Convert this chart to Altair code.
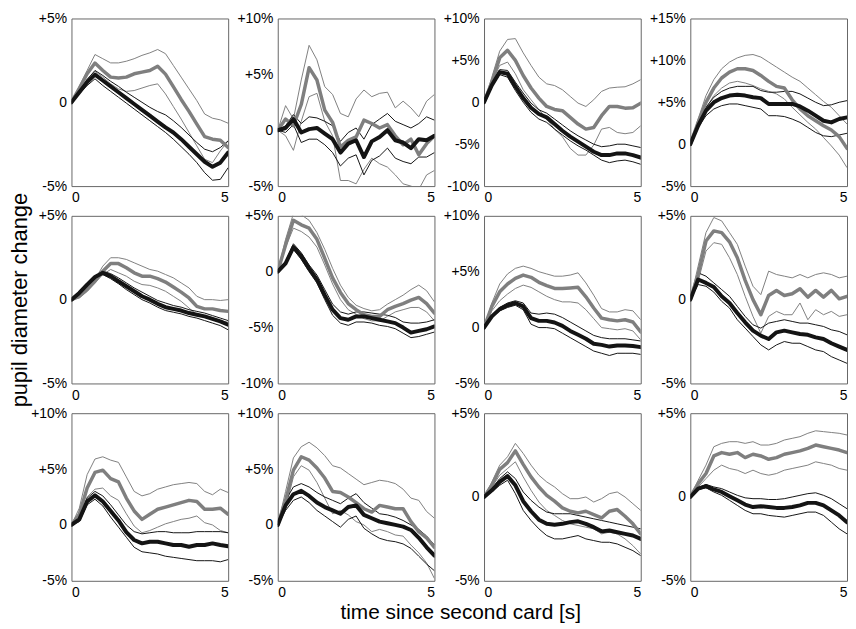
import altair as alt
import pandas as pd

# time grid [s]
T = [0, 0.25, 0.5, 0.75, 1.0, 1.25, 1.5, 1.75, 2.0, 2.25, 2.5, 2.75,
     3.0, 3.25, 3.5, 3.75, 4.0, 4.25, 4.5, 4.75, 5.0]

# ---- row 1 ----
r1c1_g  = [0, 0.83, 1.7, 2.34, 1.9, 1.5, 1.45, 1.5, 1.7, 1.8, 1.9, 2.15, 1.68, 0.93, 0.17, -0.54, -1.3, -2.05, -2.2, -2.26, -2.7]
r1c1_gh = [0, 0.95, 1.9, 2.85, 2.6, 2.35, 2.35, 2.45, 2.6, 2.8, 2.95, 3.15, 2.9, 2.2, 1.5, 0.8, 0.1, -0.7, -0.95, -1.05, -1.25]
r1c1_gl = [0, 0.7, 1.4, 1.85, 1.5, 1.1, 0.8, 0.65, 0.7, 0.85, 1.0, 1.1, 0.5, -0.25, -1.0, -1.8, -2.6, -3.4, -3.6, -2.9, -2.3]
r1c1_k  = [0, 0.6, 1.2, 1.65, 1.3, 0.95, 0.6, 0.25, -0.1, -0.45, -0.8, -1.15, -1.5, -1.8, -2.2, -2.65, -3.1, -3.55, -3.85, -3.6, -3.0]
r1c1_kh = [0, 0.7, 1.35, 1.9, 1.6, 1.25, 0.95, 0.6, 0.3, 0.0, -0.3, -0.55, -0.75, -1.1, -1.5, -1.95, -2.4, -2.8, -2.95, -2.7, -2.3]
r1c1_kl = [0, 0.5, 1.0, 1.4, 1.0, 0.65, 0.3, -0.05, -0.4, -0.75, -1.1, -1.45, -1.8, -2.2, -2.65, -3.1, -3.6, -4.2, -4.65, -4.6, -3.9]

r1c2_g  = [0, 1.0, 0.4, 2.3, 5.6, 4.5, 1.8, 0.7, -1.5, -0.9, -0.6, 0.9, 0.6, 0.2, 0.5, -0.5, -1.3, -0.8, -2.2, -1.2, -0.5]
r1c2_gh = [0, 2.2, 1.0, 4.5, 7.6, 6.3, 3.9, 3.2, 1.5, 1.2, 2.8, 3.6, 3.0, 3.3, 3.4, 2.0, 2.6, 2.0, 1.2, 2.6, 3.2]
r1c2_gl = [0, -0.5, -1.8, 0.8, 3.0, 3.3, 0.8, -0.5, -4.5, -4.5, -4.8, -3.5, -2.5, -3.0, -3.3, -4.0, -4.8, -5.0, -5.3, -4.0, -3.6]
r1c2_k  = [0, 0.2, 1.0, -0.2, 0.1, 0.2, -0.3, -0.8, -2.0, -1.2, -0.9, -2.4, -1.0, -0.6, 0.0, -0.9, -1.1, -1.6, -0.8, -0.9, -0.5]
r1c2_kh = [0, 0.4, 1.4, 0.6, 1.2, 1.1, 0.8, 0.4, -1.0, -0.2, 0.2, -0.8, 0.5, 1.0, 1.5, 0.8, 0.5, 0.2, 0.6, 1.2, 0.9]
r1c2_kl = [0, -0.2, 0.5, -1.1, -0.8, -0.8, -1.3, -2.0, -3.2, -2.5, -2.2, -4.0, -2.7, -2.3, -1.6, -2.5, -2.8, -3.0, -2.4, -2.4, -2.0]

r1c3_g  = [0, 2.4, 5.3, 6.2, 5.0, 3.2, 1.7, 0.5, -0.5, -0.85, -1.0, -1.8, -2.6, -3.2, -3.0, -1.6, -0.5, -0.5, -0.7, -0.65, -0.1]
r1c3_gh = [0, 3.0, 6.1, 7.5, 7.6, 5.9, 4.4, 3.0, 2.2, 2.0, 1.5, 0.7, -0.1, -0.5, 0.3, 1.3, 1.7, 1.8, 1.85, 2.2, 2.7]
r1c3_gl = [0, 2.4, 4.4, 4.8, 3.4, 1.5, 0.3, -0.85, -2.0, -3.2, -4.1, -5.5, -6.3, -6.3, -5.1, -3.2, -3.0, -3.6, -3.75, -3.6, -2.8]
r1c3_k  = [0, 2.05, 3.6, 3.4, 1.9, 0.5, -0.65, -1.4, -1.8, -2.6, -3.4, -4.1, -4.7, -5.3, -5.9, -6.3, -6.3, -6.1, -6.1, -6.3, -6.6]
r1c3_kh = [0, 2.2, 3.9, 3.8, 2.4, 1.1, -0.1, -0.9, -1.3, -2.0, -2.7, -3.4, -4.0, -4.5, -5.0, -5.3, -5.2, -5.0, -5.0, -5.2, -5.4]
r1c3_kl = [0, 1.9, 3.3, 3.0, 1.4, 0.0, -1.2, -2.0, -2.4, -3.2, -3.9, -4.6, -5.2, -5.7, -6.3, -6.9, -7.2, -7.0, -6.9, -7.1, -7.4]

r1c4_g  = [0, 2.6, 5.0, 6.7, 7.9, 8.6, 9.0, 9.0, 8.8, 8.2, 7.5, 6.9, 6.7, 5.3, 4.2, 3.4, 2.8, 2.2, 1.7, 0.9, -0.5]
r1c4_gh = [0, 3.0, 5.8, 7.7, 9.0, 9.8, 10.3, 10.6, 10.7, 10.4, 9.8, 9.2, 8.6, 8.0, 7.5, 6.7, 5.9, 5.1, 4.4, 3.4, 2.4]
r1c4_gl = [0, 2.3, 4.3, 5.8, 6.7, 7.3, 7.5, 7.3, 7.0, 6.6, 6.3, 6.0, 5.4, 4.4, 3.5, 2.6, 1.8, 0.8, -0.2, -1.3, -2.8]
r1c4_k  = [0, 2.2, 4.0, 5.0, 5.5, 5.8, 5.9, 5.8, 5.6, 5.5, 4.8, 4.8, 4.8, 4.8, 4.5, 4.0, 3.4, 2.8, 2.6, 3.0, 3.2]
r1c4_kh = [0, 2.4, 4.4, 5.6, 6.3, 6.7, 6.9, 6.9, 6.9, 6.4, 6.2, 6.2, 6.3, 6.3, 6.0, 5.5, 5.0, 4.6, 4.7, 5.0, 5.2]
r1c4_kl = [0, 2.0, 3.4, 4.2, 4.6, 4.8, 4.8, 4.6, 4.4, 4.2, 3.4, 3.4, 3.3, 3.0, 2.6, 2.0, 1.4, 1.0, 0.9, 1.1, 1.3]

# ---- row 2 ----
r2c1_g  = [0, 0.2, 0.6, 1.1, 1.7, 2.15, 2.15, 1.9, 1.6, 1.4, 1.4, 1.25, 1.05, 0.75, 0.45, 0.1, -0.4, -0.55, -0.55, -0.65, -0.7]
r2c1_gh = [0, 0.3, 0.7, 1.2, 2.0, 2.5, 2.5, 2.4, 2.2, 2.0, 1.8, 1.7, 1.5, 1.3, 1.0, 0.7, 0.2, 0.0, 0.0, -0.05, 0.0]
r2c1_gl = [0, 0.1, 0.5, 1.0, 1.5, 1.8, 1.6, 1.4, 1.1, 0.9, 0.85, 0.7, 0.5, 0.2, -0.1, -0.5, -0.9, -1.0, -1.15, -1.25, -1.35]
r2c1_k  = [0, 0.4, 0.9, 1.35, 1.6, 1.4, 1.1, 0.8, 0.5, 0.2, 0.0, -0.25, -0.45, -0.55, -0.65, -0.8, -0.9, -1.0, -1.15, -1.3, -1.5]
r2c1_kh = [0, 0.45, 1.0, 1.4, 1.7, 1.55, 1.3, 1.0, 0.7, 0.45, 0.2, -0.05, -0.2, -0.35, -0.45, -0.6, -0.7, -0.8, -0.95, -1.1, -1.25]
r2c1_kl = [0, 0.35, 0.8, 1.25, 1.5, 1.25, 0.95, 0.6, 0.3, 0.0, -0.2, -0.45, -0.65, -0.75, -0.85, -1.0, -1.1, -1.25, -1.4, -1.55, -1.8]

r2c2_g  = [0, 2.4, 4.6, 4.2, 3.9, 2.9, 1.2, -0.55, -1.85, -2.85, -3.4, -3.85, -4.0, -4.0, -3.4, -3.1, -2.85, -2.55, -2.3, -2.85, -3.7]
r2c2_gh = [0, 2.9, 5.2, 5.1, 4.6, 3.5, 2.0, 0.3, -1.2, -2.3, -3.0, -3.3, -3.5, -3.4, -2.9, -2.5, -2.1, -1.6, -1.2, -1.7, -2.7]
r2c2_gl = [0, 2.2, 3.9, 3.6, 3.1, 2.2, 0.6, -1.1, -2.5, -3.4, -3.8, -4.2, -4.4, -4.4, -4.0, -3.6, -3.4, -3.2, -3.2, -3.6, -4.4]
r2c2_k  = [0, 0.75, 2.2, 1.4, 0.3, -0.7, -2.1, -3.4, -4.15, -4.3, -4.0, -4.0, -4.15, -4.3, -4.45, -4.6, -5.0, -5.45, -5.3, -5.15, -4.9]
r2c2_kh = [0, 0.9, 2.5, 1.7, 0.6, -0.3, -1.6, -2.9, -3.6, -3.8, -3.6, -3.6, -3.7, -3.8, -3.9, -4.1, -4.5, -4.6, -4.6, -4.5, -4.3]
r2c2_kl = [0, 0.6, 2.0, 1.1, 0.0, -1.0, -2.5, -3.9, -4.6, -4.8, -4.5, -4.5, -4.6, -4.8, -4.9, -5.1, -5.5, -5.9, -5.8, -5.6, -5.4]

r2c3_g  = [0, 1.9, 3.2, 3.9, 4.4, 4.7, 4.5, 4.05, 3.75, 3.5, 3.5, 3.55, 3.6, 2.75, 1.75, 0.85, 0.7, 0.6, 0.7, 0.5, -0.4]
r2c3_gh = [0, 2.2, 3.9, 4.8, 5.3, 5.5, 5.3, 5.0, 4.8, 4.6, 4.6, 4.7, 4.9, 4.0, 2.9, 1.7, 1.4, 1.4, 1.6, 1.5, 0.7]
r2c3_gl = [0, 1.5, 2.4, 3.0, 3.5, 3.8, 3.6, 3.2, 2.8, 2.5, 2.3, 2.3, 2.2, 1.6, 0.8, 0.0, -0.1, -0.2, -0.1, -0.3, -1.1]
r2c3_k  = [0, 1.0, 1.65, 2.0, 2.2, 1.9, 0.85, 0.6, 0.6, 0.45, 0.15, -0.3, -0.65, -1.0, -1.45, -1.55, -1.7, -1.6, -1.6, -1.65, -1.75]
r2c3_kh = [0, 1.1, 1.8, 2.2, 2.4, 2.2, 1.3, 1.2, 1.3, 1.2, 0.9, 0.5, 0.1, -0.3, -0.7, -0.9, -1.0, -1.0, -1.0, -1.1, -1.2]
r2c3_kl = [0, 0.9, 1.5, 1.8, 2.0, 1.6, 0.3, 0.0, 0.0, -0.1, -0.5, -0.9, -1.3, -1.7, -2.1, -2.3, -2.5, -2.3, -2.3, -2.3, -2.4]

r2c4_g  = [0, 1.5, 3.5, 4.1, 4.0, 3.45, 2.5, 1.15, 0.0, -0.9, 0.25, 0.55, 0.25, 0.35, 0.65, 0.15, 0.55, 0.15, 0.55, 0.05, 0.2]
r2c4_gh = [0, 2.0, 4.0, 4.9, 4.7, 4.0, 3.3, 2.0, 0.8, 0.3, 1.7, 1.5, 1.4, 1.3, 1.5, 1.3, 1.5, 1.6, 1.5, 1.3, 1.4]
r2c4_gl = [0, 1.1, 2.9, 3.4, 3.3, 2.5, 1.5, 0.2, -1.0, -2.0, -1.0, -0.7, -0.9, -0.9, -0.2, -1.2, -0.6, -0.9, -0.7, -1.0, -0.9]
r2c4_k  = [0, 1.2, 1.0, 0.75, 0.2, -0.2, -0.8, -1.35, -1.85, -2.15, -2.35, -1.95, -1.85, -1.95, -2.05, -2.1, -2.25, -2.35, -2.6, -2.8, -3.0]
r2c4_kh = [0, 1.6, 1.4, 1.0, 0.6, 0.2, -0.4, -1.0, -1.5, -1.7, -1.4, -1.3, -1.2, -1.3, -1.4, -1.4, -1.5, -1.6, -1.8, -1.9, -2.1]
r2c4_kl = [0, 0.9, 0.8, 0.45, -0.1, -0.5, -1.2, -1.7, -2.2, -2.7, -3.0, -2.7, -2.5, -2.6, -2.6, -2.8, -3.0, -3.1, -3.4, -3.6, -3.8]

# ---- row 3 ----
r3c1_g  = [0, 0.95, 3.3, 4.7, 4.9, 4.15, 3.85, 2.4, 1.25, 0.5, 0.95, 1.4, 1.6, 1.8, 2.0, 2.2, 2.1, 1.4, 1.4, 1.5, 0.95]
r3c1_gh = [0, 1.5, 4.5, 5.9, 6.1, 5.8, 5.6, 4.3, 3.0, 2.6, 2.8, 3.2, 3.4, 3.6, 3.7, 3.8, 3.7, 3.0, 2.7, 3.2, 2.9]
r3c1_gl = [0, 0.5, 2.5, 3.2, 3.3, 2.6, 2.2, 1.0, -0.1, -0.7, -0.5, -0.2, 0.1, 0.3, 0.5, 0.6, 0.8, 0.2, 0.0, -0.5, -0.7]
r3c1_k  = [0, 0.5, 2.1, 2.65, 2.1, 1.25, 0.4, -0.65, -1.35, -1.65, -1.5, -1.5, -1.65, -1.8, -1.8, -1.95, -1.8, -1.8, -1.65, -1.8, -1.9]
r3c1_kh = [0, 0.6, 2.4, 3.0, 2.6, 1.8, 0.9, 0.0, -0.6, -0.8, -0.7, -0.6, -0.6, -0.7, -0.7, -0.7, -0.6, -0.6, -0.6, -0.6, -0.7]
r3c1_kl = [0, 0.3, 1.8, 2.3, 1.7, 0.7, -0.2, -1.1, -2.0, -2.4, -2.5, -2.6, -2.8, -2.9, -3.0, -3.1, -3.2, -3.2, -3.2, -3.3, -3.1]

r3c2_g  = [0, 2.2, 4.9, 6.1, 5.8, 5.1, 4.2, 3.0, 2.9, 2.5, 2.0, 1.45, 1.15, 1.75, 1.6, 1.45, 1.45, 0.3, -0.6, -1.15, -2.0]
r3c2_gh = [0, 3.0, 6.0, 7.0, 7.4, 6.9, 6.2, 5.3, 5.1, 4.6, 4.1, 3.6, 3.8, 4.0, 3.9, 3.7, 3.2, 2.4, 2.2, 1.2, 0.6]
r3c2_gl = [0, 1.5, 4.3, 5.3, 4.9, 3.8, 2.4, 1.0, 1.3, 0.9, 0.3, 0.0, -0.6, -0.4, -0.6, -0.9, -1.0, -1.8, -2.5, -3.4, -4.8]
r3c2_k  = [0, 1.75, 2.75, 3.05, 2.6, 2.0, 1.6, 1.3, 1.0, 1.6, 1.75, 0.9, 0.6, 0.3, 0.15, 0.0, -0.15, -0.45, -1.15, -2.0, -2.75]
r3c2_kh = [0, 2.2, 3.4, 3.7, 3.4, 2.9, 2.5, 2.2, 1.9, 2.4, 2.8, 2.0, 1.5, 1.0, 0.9, 0.7, 0.4, 0.0, -0.4, -1.0, -1.8]
r3c2_kl = [0, 1.3, 2.2, 2.5, 2.0, 1.3, 0.8, 0.3, -0.2, 0.5, 0.8, -0.3, -0.8, -1.2, -1.4, -1.5, -1.7, -2.1, -2.8, -3.5, -4.1]

r3c3_g  = [0, 0.7, 1.65, 2.05, 2.75, 1.95, 1.2, 0.6, 0.1, -0.25, -0.65, -0.85, -0.95, -0.85, -1.05, -1.25, -0.85, -0.75, -1.15, -1.6, -2.2]
r3c3_gh = [0, 0.9, 1.9, 2.4, 3.2, 2.6, 1.9, 1.3, 0.9, 0.6, 0.2, -0.1, -0.1, 0.0, -0.3, -0.1, 0.2, 0.3, 0.0, -0.4, -0.8]
r3c3_gl = [0, 0.6, 1.3, 1.7, 2.1, 1.2, 0.4, -0.3, -0.8, -1.1, -1.4, -1.6, -1.7, -1.8, -1.9, -2.2, -2.1, -2.2, -2.5, -2.9, -3.4]
r3c3_k  = [0, 0.4, 0.9, 1.25, 0.7, -0.25, -0.85, -1.35, -1.6, -1.65, -1.6, -1.5, -1.45, -1.6, -1.8, -2.05, -2.0, -2.1, -2.2, -2.3, -2.5]
r3c3_kh = [0, 0.5, 1.1, 1.5, 1.1, 0.3, -0.2, -0.6, -0.9, -1.0, -1.0, -1.0, -1.1, -1.2, -1.3, -1.4, -1.5, -1.6, -1.7, -1.8, -1.9]
r3c3_kl = [0, 0.3, 0.7, 1.0, 0.2, -0.8, -1.4, -1.9, -2.3, -2.5, -2.5, -2.4, -2.3, -2.5, -2.6, -2.7, -2.7, -2.8, -3.0, -3.2, -3.5]

r3c4_g  = [0, 0.8, 1.4, 2.45, 2.65, 2.55, 2.65, 2.35, 2.55, 2.45, 2.25, 2.35, 2.55, 2.65, 2.75, 2.9, 3.1, 3.0, 2.9, 2.8, 2.65]
r3c4_gh = [0, 1.0, 1.9, 3.0, 3.2, 3.3, 3.3, 3.2, 3.3, 3.1, 3.1, 3.2, 3.4, 3.5, 3.6, 3.8, 3.95, 3.9, 3.85, 3.8, 3.7]
r3c4_gl = [0, 0.6, 1.1, 1.6, 1.9, 1.7, 1.6, 1.4, 1.6, 1.4, 1.3, 1.4, 1.6, 1.7, 1.8, 1.9, 2.1, 2.0, 1.9, 1.7, 1.6]
r3c4_k  = [0, 0.5, 0.65, 0.45, 0.3, 0.05, -0.2, -0.45, -0.6, -0.55, -0.6, -0.65, -0.65, -0.6, -0.5, -0.35, -0.35, -0.5, -0.8, -1.1, -1.5]
r3c4_kh = [0, 0.55, 0.75, 0.6, 0.5, 0.3, 0.1, -0.05, -0.1, -0.1, -0.15, -0.15, -0.1, 0.0, 0.1, 0.2, 0.25, 0.1, -0.1, -0.4, -0.7]
r3c4_kl = [0, 0.45, 0.55, 0.3, 0.1, -0.2, -0.5, -0.8, -1.0, -1.0, -1.1, -1.15, -1.2, -1.1, -1.0, -0.9, -0.9, -1.1, -1.5, -1.9, -2.2]

# y-axis ranges and tick values of every panel
Y_DOMAINS = [[-5, 5], [-5, 10], [-10, 10], [-5, 15],
             [-5, 5], [-10, 5], [-5, 10], [-5, 5],
             [-5, 10], [-5, 10], [-5, 5], [-5, 5]]
Y_TICKS = [[-5, 0, 5], [-5, 0, 5, 10], [-10, -5, 0, 5, 10], [-5, 0, 5, 10, 15],
           [-5, 0, 5], [-10, -5, 0, 5], [-5, 0, 5, 10], [-5, 0, 5],
           [-5, 0, 5, 10], [-5, 0, 5, 10], [-5, 0, 5], [-5, 0, 5]]
X_TICKS = [0, 5]
Y_TITLE = "pupil diameter change"
X_TITLE = "time since second card [s]"

SERIES = [
    (r1c1_g, r1c1_gh, r1c1_gl, r1c1_k, r1c1_kh, r1c1_kl),
    (r1c2_g, r1c2_gh, r1c2_gl, r1c2_k, r1c2_kh, r1c2_kl),
    (r1c3_g, r1c3_gh, r1c3_gl, r1c3_k, r1c3_kh, r1c3_kl),
    (r1c4_g, r1c4_gh, r1c4_gl, r1c4_k, r1c4_kh, r1c4_kl),
    (r2c1_g, r2c1_gh, r2c1_gl, r2c1_k, r2c1_kh, r2c1_kl),
    (r2c2_g, r2c2_gh, r2c2_gl, r2c2_k, r2c2_kh, r2c2_kl),
    (r2c3_g, r2c3_gh, r2c3_gl, r2c3_k, r2c3_kh, r2c3_kl),
    (r2c4_g, r2c4_gh, r2c4_gl, r2c4_k, r2c4_kh, r2c4_kl),
    (r3c1_g, r3c1_gh, r3c1_gl, r3c1_k, r3c1_kh, r3c1_kl),
    (r3c2_g, r3c2_gh, r3c2_gl, r3c2_k, r3c2_kh, r3c2_kl),
    (r3c3_g, r3c3_gh, r3c3_gl, r3c3_k, r3c3_kh, r3c3_kl),
    (r3c4_g, r3c4_gh, r3c4_gl, r3c4_k, r3c4_kh, r3c4_kl),
]
KEYS = ["g", "gh", "gl", "k", "kh", "kl"]

W, H = 158, 169
GRAY = "#7f7f7f"
BLACK = "#141414"
LABEL_EXPR = ("datum.value > 0 ? '+' + datum.value + '%' : "
              "(datum.value < 0 ? datum.value + '%' : '0')")


def panel(i):
    rows = []
    for key, vals in zip(KEYS, SERIES[i]):
        for t, v in zip(T, vals):
            rows.append({"t": t, "v": v, "s": key})
    df = pd.DataFrame(rows)

    xaxis_kw = dict(values=X_TICKS, format="d", labelPadding=5)
    if i == 9:
        xaxis_kw.update(title=X_TITLE, titleX=184, titlePadding=2,
                        titleAlign="center", titleFontSize=21)
    else:
        xaxis_kw.update(title=None)
    yaxis_kw = dict(values=Y_TICKS[i], labelExpr=LABEL_EXPR, labelPadding=5)
    if i == 4:
        yaxis_kw.update(title=Y_TITLE, titlePadding=7)
    else:
        yaxis_kw.update(title=None)

    base = alt.Chart(df).encode(
        x=alt.X("t:Q", scale=alt.Scale(domain=[0, 5], nice=False, zero=False),
                axis=alt.Axis(**xaxis_kw)),
        y=alt.Y("v:Q", scale=alt.Scale(domain=Y_DOMAINS[i], nice=False, zero=False),
                axis=alt.Axis(**yaxis_kw)),
        detail="s:N",
    )
    thin_g = base.transform_filter(alt.FieldOneOfPredicate(field="s", oneOf=["gh", "gl"])) \
        .mark_line(color=GRAY, strokeWidth=1, clip=True)
    thin_k = base.transform_filter(alt.FieldOneOfPredicate(field="s", oneOf=["kh", "kl"])) \
        .mark_line(color=BLACK, strokeWidth=1, clip=True)
    thick_g = base.transform_filter(alt.FieldEqualPredicate(field="s", equal="g")) \
        .mark_line(color=GRAY, strokeWidth=3.5, clip=True, strokeJoin="round", strokeCap="round")
    thick_k = base.transform_filter(alt.FieldEqualPredicate(field="s", equal="k")) \
        .mark_line(color=BLACK, strokeWidth=4, clip=True, strokeJoin="round", strokeCap="round")
    return alt.layer(thin_g, thin_k, thick_g, thick_k).properties(width=W, height=H)


chart = alt.concat(
    *[panel(i) for i in range(12)],
    columns=4,
    spacing={"row": 30, "column": 50},
    bounds="flush",
).properties(
    padding=0
).configure_axis(
    labelFont="Liberation Sans", labelFontSize=14, labelColor="black",
    titleFont="Liberation Sans", titleFontSize=22, titleFontWeight="normal",
    titleColor="black", ticks=False, domain=False, grid=False,
).configure_view(
    stroke="#666666", strokeWidth=1
)

chart.save("out.html", embed_options={"renderer": "svg", "actions": False})
